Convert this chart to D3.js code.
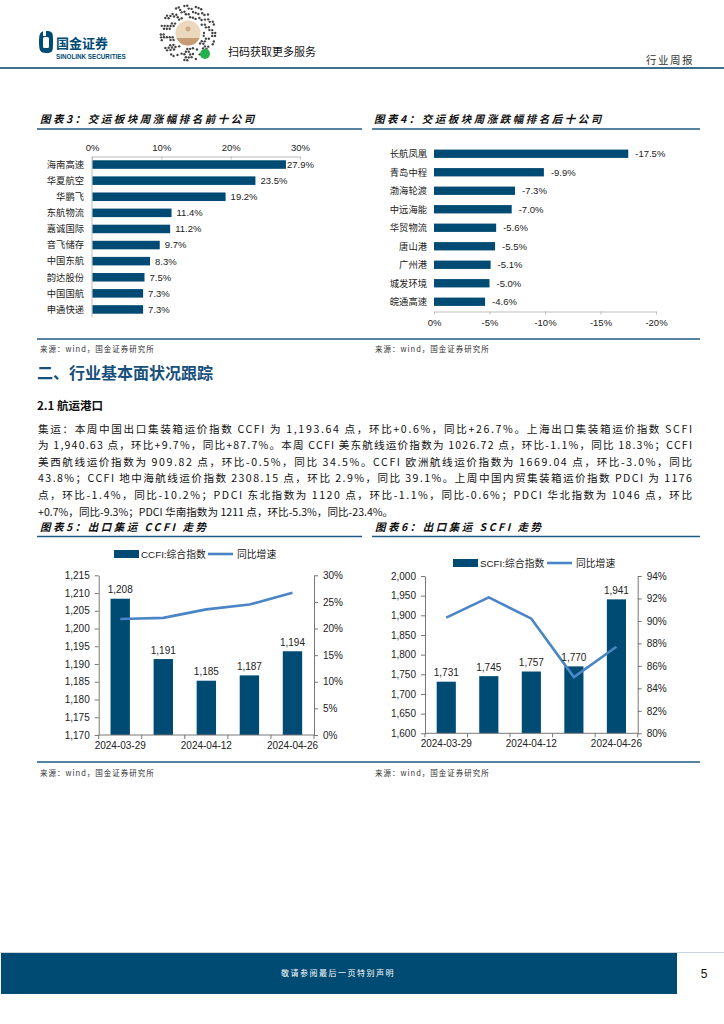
<!DOCTYPE html>
<html>
<head>
<meta charset="utf-8">
<script src="https://cdn.jsdelivr.net/npm/d3@7"></script>
<style>
  body { margin: 0; background: #fff; }
  svg { display: block; }
</style>
</head>
<body>
<svg id="page" width="724" height="1024"></svg>
<script>
// ---- data ----
const gainNames  = ['海南高速', '华夏航空', '华鹏飞', '东航物流', '嘉诚国际', '音飞储存', '中国东航', '韵达股份', '中国国航', '申通快递'];
const gainValues = [27.9, 23.5, 19.2, 11.4, 11.2, 9.7, 8.3, 7.5, 7.3, 7.3];
const gainTicks  = [0, 10, 20, 30];

const lossNames  = ['长航凤凰', '青岛中程', '渤海轮渡', '中远海能', '华贸物流', '唐山港', '广州港', '城发环境', '皖通高速'];
const lossValues = [-17.5, -9.9, -7.3, -7.0, -5.6, -5.5, -5.1, -5.0, -4.6];
const lossTicks  = [0, -5, -10, -15, -20];

const weekLabels = ['2024-03-29', '2024-04-03', '2024-04-12', '2024-04-19', '2024-04-26'];
const shownWeeks = ['2024-03-29', '2024-04-12', '2024-04-26'];

const ccfiValues = [1208.4, 1191.4, 1185.3, 1186.8, 1193.6];
const ccfiYoy    = [21.8, 22.0, 23.6, 24.5, 26.7];
const ccfiTicks  = [1170, 1175, 1180, 1185, 1190, 1195, 1200, 1205, 1210, 1215];
const ccfiYoyTicks = [0, 5, 10, 15, 20, 25, 30];

const scfiValues = [1731.2, 1745.3, 1757.1, 1770.2, 1940.6];
const scfiYoy    = [90.3, 92.1, 90.2, 85.0, 87.7];
const scfiTicks  = [1600, 1650, 1700, 1750, 1800, 1850, 1900, 1950, 2000];
const scfiYoyTicks = [80, 82, 84, 86, 88, 90, 92, 94];

const bodyLines = [
  '集运：本周中国出口集装箱运价指数 CCFI 为 1,193.64 点，环比+0.6%，同比+26.7%。上海出口集装箱运价指数 SCFI',
  '为 1,940.63 点，环比+9.7%，同比+87.7%。本周 CCFI 美东航线运价指数为 1026.72 点，环比-1.1%，同比 18.3%；CCFI',
  '美西航线运价指数为 909.82 点，环比-0.5%，同比 34.5%。CCFI 欧洲航线运价指数为 1669.04 点，环比-3.0%，同比',
  '43.8%；CCFI 地中海航线运价指数 2308.15 点，环比 2.9%，同比 39.1%。上周中国内贸集装箱运价指数 PDCI 为 1176',
  '点，环比-1.4%，同比-10.2%；PDCI 东北指数为 1120 点，环比-1.1%，同比-0.6%；PDCI 华北指数为 1046 点，环比',
  '+0.7%，同比-9.3%；PDCI 华南指数为 1211 点，环比-5.3%，同比-23.4%。'
];

// ---- style ----
const BAR = '#004b73';
const LINE = '#4a86c6';
const RULE = '#1f5a82';
const CJK = '"Noto Sans CJK SC", sans-serif';
const NUM = '"Liberation Sans", Arial, "Noto Sans CJK SC", sans-serif';

const svg = d3.select('#page');
svg.append('rect').attr('width', 724).attr('height', 1024).attr('fill', '#fff');

// ---- page header ----
const head = svg.append('g');
head.append('path')
  .attr('d', 'M46,31 C53,31 53,33 53,42 C53,51 53,53 46,53 C40,53 39,50 39,42 C39,34 40,31 46,31 Z')
  .attr('fill', BAR);
head.append('rect').attr('x', 43).attr('y', 37).attr('width', 6).attr('height', 11).attr('rx', 1.5).attr('fill', '#fff');
head.append('rect').attr('x', 43).attr('y', 30).attr('width', 3).attr('height', 6).attr('fill', '#fff');
head.append('text').attr('x', 56).attr('y', 48).attr('font-family', CJK).attr('font-weight', 700)
  .attr('font-size', 13).attr('fill', BAR).text('国金证券');
head.append('text').attr('x', 56).attr('y', 59).attr('font-family', NUM).attr('font-weight', 700)
  .attr('font-size', 6.3).attr('fill', BAR).text('SINOLINK SECURITIES');

// mini-program code (decorative rings of dots)
const qr = head.append('g');
const qcx = 188, qcy = 33;
const dots = [];
d3.range(5).forEach(k => {
  const r = 16 + k * 2.8;
  const n = Math.round(2 * Math.PI * r / 2.9);
  d3.range(n).forEach(m => {
    if (((m * 7 + k * 3 + (m * m) % 5) % 4) < 2) {
      const a = m / n * 2 * Math.PI;
      dots.push([qcx + r * Math.cos(a), qcy + r * Math.sin(a)]);
    }
  });
});
qr.selectAll('circle.dot').data(dots).join('circle').attr('class', 'dot')
  .attr('cx', d => d[0]).attr('cy', d => d[1]).attr('r', 1.2).attr('fill', '#444');
qr.append('circle').attr('cx', qcx).attr('cy', qcy).attr('r', 12.5).attr('fill', '#ecd8bd');
qr.append('path').attr('d', `M${qcx - 11.5},${qcy + 5} A12.5,12.5 0 0 0 ${qcx + 11.5},${qcy + 5} Z`).attr('fill', '#c69c74');
qr.append('circle').attr('cx', qcx).attr('cy', qcy - 4).attr('r', 2.5).attr('fill', '#d3a984');
qr.append('circle').attr('cx', 205).attr('cy', 54).attr('r', 5).attr('fill', '#21b24b');
head.append('text').attr('x', 228).attr('y', 56).attr('font-family', CJK)
  .attr('font-size', 11).attr('fill', '#111').text('扫码获取更多服务');
head.append('text').attr('x', 646).attr('y', 64).attr('font-family', CJK)
  .attr('font-size', 10.5).attr('letter-spacing', 1.5).attr('fill', '#333').text('行业周报');
head.append('line').attr('x1', 0).attr('x2', 724).attr('y1', 68).attr('y2', 68)
  .attr('stroke', '#3d6f91').attr('stroke-width', 1.8);

// ---- shared helpers ----
function chartTitle(x, y, text, x1, x2) {
  svg.append('text').attr('x', x).attr('y', y).attr('font-family', CJK).attr('font-weight', 700)
    .attr('font-style', 'italic').attr('font-size', 10.5).attr('letter-spacing', 2.5)
    .attr('fill', '#111').text(text);
  svg.append('line').attr('x1', x1).attr('x2', x2).attr('y1', y + 6).attr('y2', y + 6)
    .attr('stroke', RULE).attr('stroke-width', 1.3);
}
function sourceNote(x, y) {
  svg.append('text').attr('x', x).attr('y', y).attr('font-family', CJK)
    .attr('font-size', 7.5).attr('letter-spacing', 1).attr('fill', '#333').text('来源：wind，国金证券研究所');
}

// ---- chart 3: top gainers ----
chartTitle(40, 123, '图表3：交运板块周涨幅排名前十公司', 37, 362);
{
  const g = svg.append('g');
  const x = d3.scaleLinear().domain([0, 30]).range([92, 300]);
  const y = d3.scaleBand().domain(gainNames).range([156.5, 317.5]).paddingInner(0.47).paddingOuter(0.235);
  const top = g.append('g').attr('transform', 'translate(0,156.5)')
    .call(d3.axisTop(x).tickValues(gainTicks).tickFormat(d => d + '%').tickSizeInner(-3).tickSizeOuter(0).tickPadding(6));
  top.select('.domain').attr('stroke', '#bdbdbd');
  top.selectAll('.tick line').attr('stroke', '#bdbdbd');
  top.selectAll('.tick text').attr('font-family', NUM).attr('font-size', 9.5).attr('fill', '#222');
  g.append('line').attr('x1', 92).attr('x2', 92).attr('y1', 156.5).attr('y2', 317.5).attr('stroke', '#bdbdbd');
  g.selectAll('rect.bar').data(gainValues).join('rect').attr('class', 'bar')
    .attr('x', x(0) + 0.5).attr('y', (d, i) => y(gainNames[i]))
    .attr('width', d => x(d) - x(0)).attr('height', y.bandwidth()).attr('fill', BAR);
  g.selectAll('text.name').data(gainNames).join('text').attr('class', 'name')
    .attr('x', 84).attr('y', d => y(d) + y.bandwidth() / 2 + 3.3).attr('text-anchor', 'end')
    .attr('font-family', CJK).attr('font-size', 9.3).attr('fill', '#222').text(d => d);
  g.selectAll('text.val').data(gainValues).join('text').attr('class', 'val')
    .attr('x', d => x(d) + (d > 25 ? 1.5 : 5.5)).attr('y', (d, i) => y(gainNames[i]) + y.bandwidth() / 2 + 3.4)
    .attr('font-family', NUM).attr('font-size', 9.5).attr('fill', '#222').text(d => d.toFixed(1) + '%');
}

// ---- chart 4: top losers ----
chartTitle(374, 123, '图表4：交运板块周涨跌幅排名后十公司', 372, 700);
{
  const g = svg.append('g');
  const x = d3.scaleLinear().domain([0, -20]).range([434, 656]);
  const y = d3.scaleBand().domain(lossNames).range([144.5, 311]).paddingInner(0.55).paddingOuter(0.275);
  const bottom = g.append('g').attr('transform', 'translate(0,311.5)')
    .call(d3.axisBottom(x).tickValues(lossTicks).tickFormat(d => d + '%').tickSizeInner(3).tickSizeOuter(0).tickPadding(5));
  bottom.select('.domain').attr('stroke', '#bdbdbd');
  bottom.selectAll('.tick line').attr('stroke', '#bdbdbd');
  bottom.selectAll('.tick text').attr('font-family', NUM).attr('font-size', 9.5).attr('fill', '#222');
  g.selectAll('rect.bar').data(lossValues).join('rect').attr('class', 'bar')
    .attr('x', x(0)).attr('y', (d, i) => y(lossNames[i]))
    .attr('width', d => x(d) - x(0)).attr('height', y.bandwidth()).attr('fill', BAR);
  g.selectAll('text.name').data(lossNames).join('text').attr('class', 'name')
    .attr('x', 427).attr('y', d => y(d) + y.bandwidth() / 2 + 3.3).attr('text-anchor', 'end')
    .attr('font-family', CJK).attr('font-size', 9.3).attr('fill', '#222').text(d => d);
  g.selectAll('text.val').data(lossValues).join('text').attr('class', 'val')
    .attr('x', d => x(d) + 7).attr('y', (d, i) => y(lossNames[i]) + y.bandwidth() / 2 + 3.4)
    .attr('font-family', NUM).attr('font-size', 9.5).attr('fill', '#222').text(d => d.toFixed(1) + '%');
}

svg.append('line').attr('x1', 37).attr('x2', 700).attr('y1', 339).attr('y2', 339).attr('stroke', RULE).attr('stroke-width', 1.3);
sourceNote(40, 352);
sourceNote(375, 352);

// ---- section text ----
svg.append('text').attr('x', 37).attr('y', 379).attr('font-family', CJK).attr('font-weight', 700)
  .attr('font-size', 16).attr('fill', '#17507d').text('二、行业基本面状况跟踪');
svg.append('text').attr('x', 37).attr('y', 410).attr('font-family', CJK).attr('font-weight', 700)
  .attr('font-size', 11.5).attr('fill', '#111').text('2.1 航运港口');

svg.selectAll('text.body').data(bodyLines).join('text').attr('class', 'body')
  .attr('x', 38).attr('y', (d, i) => 432.5 + i * 16.6)
  .attr('font-family', CJK).attr('font-size', 10.6).attr('fill', '#111')
  .each(function (d, i) {
    if (i < bodyLines.length - 1) d3.select(this).attr('textLength', 654).attr('lengthAdjust', 'spacing');
  })
  .text(d => d);

// ---- combo charts (bars + yoy line) ----
function comboChart(cfg) {
  const g = svg.append('g');
  const x = d3.scaleBand().domain(weekLabels).range([cfg.left, cfg.right]).paddingInner(0.55).paddingOuter(0.275);
  const yL = d3.scaleLinear().domain(d3.extent(cfg.ticks)).range([cfg.bottom, cfg.top]);
  const yR = d3.scaleLinear().domain(d3.extent(cfg.yoyTicks)).range([cfg.bottom, cfg.top]);

  const styleAxis = sel => {
    sel.select('.domain').attr('stroke', '#777');
    sel.selectAll('.tick line').attr('stroke', '#777');
    sel.selectAll('.tick text').attr('font-family', NUM).attr('font-size', 10).attr('fill', '#222');
  };
  g.append('g').attr('transform', `translate(${cfg.left},0)`)
    .call(d3.axisLeft(yL).tickValues(cfg.ticks).tickFormat(d3.format(',')).tickSizeInner(4).tickSizeOuter(0).tickPadding(5))
    .call(styleAxis);
  g.append('g').attr('transform', `translate(${cfg.right},0)`)
    .call(d3.axisRight(yR).tickValues(cfg.yoyTicks).tickFormat(d => d + '%').tickSizeInner(4).tickSizeOuter(0).tickPadding(5))
    .call(styleAxis);

  g.selectAll('rect.bar').data(cfg.values).join('rect').attr('class', 'bar')
    .attr('x', (d, i) => x(weekLabels[i])).attr('y', d => yL(d))
    .attr('width', x.bandwidth()).attr('height', d => cfg.bottom - yL(d)).attr('fill', BAR);

  // category axis: line, ticks between categories, every other label
  g.append('line').attr('x1', cfg.left).attr('x2', cfg.right).attr('y1', cfg.bottom).attr('y2', cfg.bottom).attr('stroke', '#777');
  g.selectAll('line.xt').data(d3.range(weekLabels.length + 1)).join('line').attr('class', 'xt')
    .attr('x1', i => cfg.left + i * x.step()).attr('x2', i => cfg.left + i * x.step())
    .attr('y1', cfg.bottom).attr('y2', cfg.bottom + 4).attr('stroke', '#777');
  g.selectAll('text.xl').data(shownWeeks).join('text').attr('class', 'xl')
    .attr('x', d => x(d) + x.bandwidth() / 2).attr('y', cfg.bottom + 13.5).attr('text-anchor', 'middle')
    .attr('font-family', NUM).attr('font-size', 10).attr('fill', '#222').text(d => d);

  const line = d3.line().x((d, i) => x(weekLabels[i]) + x.bandwidth() / 2).y(d => yR(d));
  g.append('path').datum(cfg.yoy).attr('d', line).attr('fill', 'none')
    .attr('stroke', LINE).attr('stroke-width', 2.6).attr('stroke-linejoin', 'round');

  g.selectAll('text.bv').data(cfg.values).join('text').attr('class', 'bv')
    .attr('x', (d, i) => x(weekLabels[i]) + x.bandwidth() / 2).attr('y', d => yL(d) - 5.5)
    .attr('text-anchor', 'middle').attr('font-family', NUM).attr('font-size', 10).attr('fill', '#222')
    .text(d => d3.format(',.0f')(d));

  // legend
  const lg = g.append('g').attr('transform', `translate(${cfg.legendX},${cfg.legendY})`);
  lg.append('rect').attr('x', 0).attr('y', -4).attr('width', 25).attr('height', 8).attr('fill', BAR);
  lg.append('text').attr('x', 27).attr('y', 3.5).attr('font-family', NUM).attr('font-size', 9.8).attr('fill', '#222').text(cfg.name);
  lg.append('line').attr('x1', cfg.lineLegendDx).attr('x2', cfg.lineLegendDx + 25).attr('y1', 0).attr('y2', 0)
    .attr('stroke', LINE).attr('stroke-width', 2.6);
  lg.append('text').attr('x', cfg.lineLegendDx + 29).attr('y', 3.5).attr('font-family', CJK).attr('font-size', 9.8)
    .attr('fill', '#222').text('同比增速');
}

chartTitle(40, 530.5, '图表5：出口集运 CCFI 走势', 37, 362);
comboChart({
  left: 98.7, right: 314, top: 575.3, bottom: 735,
  ticks: ccfiTicks, yoyTicks: ccfiYoyTicks, values: ccfiValues, yoy: ccfiYoy,
  name: 'CCFI:综合指数', legendX: 114, legendY: 554, lineLegendDx: 94
});

chartTitle(375, 530.5, '图表6：出口集运 SCFI 走势', 372, 700);
comboChart({
  left: 425, right: 637.7, top: 576, bottom: 733.3,
  ticks: scfiTicks, yoyTicks: scfiYoyTicks, values: scfiValues, yoy: scfiYoy,
  name: 'SCFI:综合指数', legendX: 453, legendY: 563, lineLegendDx: 94
});

svg.append('line').attr('x1', 37).attr('x2', 700).attr('y1', 762).attr('y2', 762).attr('stroke', RULE).attr('stroke-width', 1.3);
sourceNote(40, 776);
sourceNote(375, 776);

// ---- footer ----
svg.append('line').attr('x1', 0).attr('x2', 724).attr('y1', 952.5).attr('y2', 952.5).attr('stroke', '#c8d3dc').attr('stroke-width', 1);
svg.append('rect').attr('x', 1).attr('y', 953).attr('width', 676).attr('height', 41).attr('fill', BAR);
svg.append('text').attr('x', 338).attr('y', 976).attr('text-anchor', 'middle').attr('font-family', CJK)
  .attr('font-size', 8).attr('letter-spacing', 1.5).attr('fill', '#fff').text('敬请参阅最后一页特别声明');
svg.append('text').attr('x', 704).attr('y', 978).attr('text-anchor', 'middle').attr('font-family', NUM)
  .attr('font-size', 12).attr('fill', '#111').text('5');
</script>
</body>
</html>
